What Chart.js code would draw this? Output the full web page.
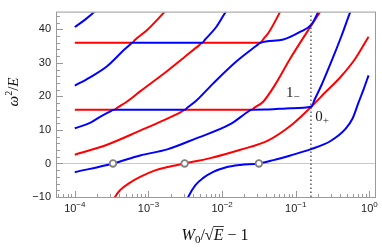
<!DOCTYPE html>
<html>
<head>
<meta charset="utf-8">
<script src="https://cdn.jsdelivr.net/npm/chart.js@4.4.0/dist/chart.umd.min.js"></script>
<style>
  html, body { margin: 0; padding: 0; background: #fff; }
</style>
</head>
<body>
<canvas id="chart" width="382" height="248"></canvas>
<script>
// --- DATA ---
const xMin = 5.73e-5, xMax = 1.23;
const yMin = -10, yMax = 45;
const xTickPowers = [-4, -3, -2, -1, 0];
const yTickValues = [-10, 0, 10, 20, 30, 40];

// blue branches
const blueAX = [1.0e-4, 1.38e-4, 1.88e-4, 2.0e-4];
const blueAY = [40.7, 42.9, 45.4, 46.0];

const blueBX = [1.0e-4, 1.61e-4, 2.74e-4, 4.67e-4, 5.64e-4, 6.0e-4, 5.38e-3, 5.9e-3, 8.33e-3, 1.14e-2, 1.21e-2];
const blueBY = [23.2, 25.7, 29.0, 33.9, 35.5, 36, 36, 37.0, 40.7, 45.4, 46.0];

const blueCX = [1.0e-4, 1.61e-4, 2.2e-4, 2.9e-4, 3.41e-4, 3.13e-3, 3.36e-3, 4.45e-3, 7.59e-3, 1.56e-2, 2.92e-2, 3.31e-2, 6.81e-2, 0.116, 0.164, 0.204, 0.217];
const blueCY = [10.5, 12.1, 13.9, 15.3, 16, 16, 16.6, 18.7, 23.9, 30.4, 35.1, 36, 37.0, 39.3, 41.5, 45.4, 46.8];

const blueDX = [1.0e-4, 3.31e-4, 7.71e-4, 1.8e-3, 4.45e-3, 1.29e-2, 2.27e-2, 2.5e-2, 4.25e-2, 8.47e-2, 0.164, 0.18, 0.224, 0.306, 0.419, 0.555, 0.591];
const blueDY = [-2.6, 0, 2.4, 4.2, 7.5, 11.7, 15.5, 16, 16.1, 16.5, 17.0, 19.0, 23.4, 30.5, 38.1, 45.4, 46.8];

const blueEX = [3.26e-3, 3.47e-3, 4.32e-3, 5.55e-3, 7.59e-3, 1.11e-2, 1.77e-2, 3.16e-2, 4.98e-2, 8.47e-2, 0.158, 0.297, 0.474, 0.591, 0.713, 0.834, 0.975];
const blueEY = [-11.6, -10.0, -6.5, -4.3, -2.5, -1.2, -0.45, 0, 1.0, 2.4, 4.2, 6.7, 10.3, 13.4, 18.2, 22.1, 26.3];

// red branches
const redAX = [1.0e-4, 6.0e-4, 6.59e-4, 9.6e-4, 1.69e-3, 1.8e-3];
const redAY = [36, 36, 36.9, 39.8, 45.4, 46.0];

const redBX = [1.0e-4, 3.41e-4, 3.75e-4, 5.13e-4, 7.71e-4, 1.8e-3, 2.96e-3, 4.9e-3, 5.38e-3, 3.31e-2, 3.64e-2, 4.25e-2, 6.19e-2, 6.38e-2];
const redBY = [16, 16, 16.6, 18.5, 21.5, 27.6, 31.4, 35.3, 36, 36, 37.1, 38.9, 45.4, 46.0];

const redCX = [1.0e-4, 2.74e-4, 7.71e-4, 1.69e-3, 2.79e-3, 3.13e-3, 2.5e-2, 2.74e-2, 3.64e-2, 4.98e-2, 8.47e-2, 0.164, 0.217, 0.231];
const redCY = [2.6, 5.6, 9.8, 13.1, 15.4, 16, 16, 16.6, 18.5, 22.7, 31.4, 41.3, 45.4, 46.3];

const redDX = [3.31e-4, 3.52e-4, 4.12e-4, 5.64e-4, 7.71e-4, 1.23e-3, 1.8e-3, 3.1e-3, 6.91e-3, 1.77e-2, 4.25e-2, 9.02e-2, 0.164, 0.254, 0.406, 0.649, 0.975];
const redDY = [-11.6, -10.0, -7.95, -5.7, -4.0, -2.05, -1.07, 0, 1.6, 4.1, 6.9, 11.7, 17.0, 21.3, 25.8, 31.4, 37.8];

// zero crossings marked with open circles
const markX = [3.3e-4, 3.1e-3, 3.16e-2];
const markY = [0, 0, 0];

// dotted vertical line
const dottedX = 0.161;

// --- HELPERS ---
function pts(xs, ys) {
    return xs.map((x, i) => ({ x: x, y: ys[i] }));
}

function curve(xs, ys, color) {
    return {
        data: pts(xs, ys),
        borderColor: color,
        borderWidth: 2,
        pointRadius: 0,
        cubicInterpolationMode: 'monotone',
        clip: 0,
        order: 2
    };
}

// draw a list of text runs side by side, centred on cx
function drawRuns(ctx, runs, cx, baseline) {
    let total = 0;
    runs.forEach(r => { ctx.font = r.font; r.w = ctx.measureText(r.t).width; total += r.w + (r.gap || 0); });
    let x = cx - total / 2;
    ctx.textAlign = 'left';
    ctx.textBaseline = 'alphabetic';
    runs.forEach(r => {
        ctx.font = r.font;
        r.x = x;
        ctx.fillText(r.t, x, baseline + (r.dy || 0));
        x += r.w + (r.gap || 0);
    });
    return runs;
}

// --- PLUGIN: frame, inward ticks, labels, titles ---
const decorPlugin = {
    id: 'decor',
    afterDraw(chart) {
        const ctx = chart.ctx;
        const a = chart.chartArea;
        const xs = chart.scales.x, ys = chart.scales.y;
        ctx.save();

        // frame
        ctx.strokeStyle = '#9a9a9a';
        ctx.lineWidth = 1;
        ctx.strokeRect(a.left - 0.5, a.top - 0.5, a.right - a.left, a.bottom - a.top + 1);

        // x ticks (major + minor), inward
        ctx.beginPath();
        for (let p = -5; p <= 0; p++) {
            for (let m = 1; m <= 9; m++) {
                const v = m * Math.pow(10, p);
                if (v < xMin || v > xMax) continue;
                const px = Math.round(xs.getPixelForValue(v)) + 0.5;
                const len = m === 1 ? 6 : 3;
                ctx.moveTo(px, a.bottom);
                ctx.lineTo(px, a.bottom - len);
            }
        }
        // y ticks, inward
        for (let v = yMin; v <= yMax; v += 2) {
            const py = Math.round(ys.getPixelForValue(v)) + 0.5;
            const len = v % 10 === 0 ? 6 : 3;
            ctx.moveTo(a.left, py);
            ctx.lineTo(a.left + len, py);
        }
        ctx.stroke();

        // x tick labels 10^p
        ctx.fillStyle = '#222';
        xTickPowers.forEach(p => {
            const px = xs.getPixelForValue(Math.pow(10, p));
            const exp = p === 0 ? '0' : '\u2212' + Math.abs(p);
            drawRuns(ctx, [
                { t: '10', font: '11px "Liberation Sans"' },
                { t: exp, font: '8px "Liberation Sans"', dy: -5 }
            ], px, 212);
        });

        // annotations 1- and 0+
        ctx.fillStyle = '#222';
        let lx = xs.getPixelForValue(0.074), ly = ys.getPixelForValue(19.9);
        ctx.font = '15px "Liberation Serif"';
        ctx.textAlign = 'left';
        ctx.fillText('1', lx, ly);
        let w = ctx.measureText('1').width;
        ctx.font = '11px "Liberation Serif"';
        ctx.fillText('\u2212', lx + w, ly + 3);

        lx = xs.getPixelForValue(0.184); ly = ys.getPixelForValue(12.6);
        ctx.font = '15px "Liberation Serif"';
        ctx.fillText('0', lx, ly);
        w = ctx.measureText('0').width;
        ctx.font = '11px "Liberation Serif"';
        ctx.fillText('+', lx + w, ly + 3);

        // x axis title: W0/sqrt(E) - 1
        ctx.fillStyle = '#111';
        const runs = drawRuns(ctx, [
            { t: 'W', font: 'italic 16px "Liberation Serif"' },
            { t: '0', font: '11px "Liberation Serif"', dy: 3 },
            { t: '/', font: '16px "Liberation Serif"' },
            { t: '\u221A', font: '16px "Liberation Serif"' },
            { t: 'E', font: 'italic 16px "Liberation Serif"', gap: 4 },
            { t: '\u2212 1', font: '16px "Liberation Serif"' }
        ], 215, 240);
        ctx.strokeStyle = '#111';
        ctx.lineWidth = 0.8;
        ctx.beginPath();
        ctx.moveTo(runs[3].x + runs[3].w - 0.5, 226.5);
        ctx.lineTo(runs[4].x + runs[4].w + 0.5, 226.5);
        ctx.stroke();

        // y axis title: omega^2/E
        ctx.translate(18, 92);
        ctx.rotate(-Math.PI / 2);
        drawRuns(ctx, [
            { t: '\u03C9', font: 'italic 15px "Liberation Serif"' },
            { t: '2', font: '10px "Liberation Serif"', dy: -6 },
            { t: '/', font: '15px "Liberation Serif"' },
            { t: 'E', font: 'italic 15px "Liberation Serif"' }
        ], 0, 0);

        ctx.restore();
    }
};

// --- CHART ---
const datasets = [
    {
        data: pts(markX, markY),
        showLine: false,
        pointRadius: 3.3,
        pointBorderWidth: 1.8,
        pointBorderColor: '#808080',
        pointBackgroundColor: '#ffffff',
        order: 0
    },
    {
        data: [{ x: dottedX, y: yMin }, { x: dottedX, y: yMax }],
        borderColor: '#333',
        borderWidth: 1.2,
        borderDash: [1.5, 2.5],
        pointRadius: 0,
        order: 1
    },
    curve(blueAX, blueAY, '#0000ff'),
    curve(blueBX, blueBY, '#0000ff'),
    curve(blueCX, blueCY, '#0000ff'),
    curve(blueDX, blueDY, '#0000ff'),
    curve(blueEX, blueEY, '#0000ff'),
    curve(redAX, redAY, '#ff0000'),
    curve(redBX, redBY, '#ff0000'),
    curve(redCX, redCY, '#ff0000'),
    curve(redDX, redDY, '#ff0000'),
    {
        data: [{ x: xMin, y: 0 }, { x: xMax, y: 0 }],
        borderColor: '#c8c8c8',
        borderWidth: 1,
        pointRadius: 0,
        order: 3
    }
];

new Chart(document.getElementById('chart'), {
    type: 'line',
    data: { datasets: datasets },
    options: {
        responsive: false,
        animation: false,
        events: [],
        layout: { padding: { top: 1, right: 6, left: 0, bottom: 0 } },
        plugins: { legend: { display: false }, tooltip: { enabled: false } },
        scales: {
            x: {
                type: 'logarithmic',
                min: xMin,
                max: xMax,
                grid: { display: false, drawTicks: false },
                border: { display: false },
                ticks: { display: false },
                afterFit: s => { s.height = 51; }
            },
            y: {
                min: yMin,
                max: yMax,
                grid: { display: false, drawTicks: false },
                border: { display: false },
                afterBuildTicks: s => { s.ticks = yTickValues.map(v => ({ value: v })); },
                ticks: {
                    color: '#222',
                    padding: 6,
                    font: { family: 'Liberation Sans', size: 11 },
                    callback: v => (v < 0 ? '\u2212' + Math.abs(v) : String(v))
                },
                afterFit: s => { s.width = 57; }
            }
        }
    },
    plugins: [decorPlugin]
});
</script>
</body>
</html>
